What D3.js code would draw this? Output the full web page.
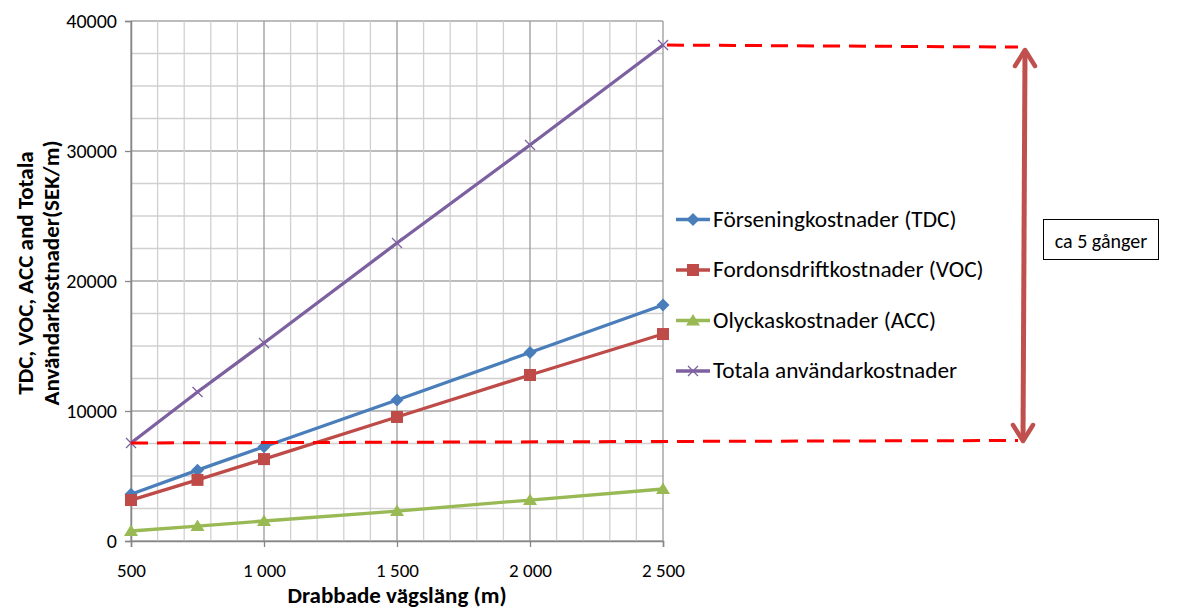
<!DOCTYPE html>
<html><head><meta charset="utf-8">
<script src="https://cdn.jsdelivr.net/npm/d3@7/dist/d3.min.js"></script>
<style>body{margin:0;background:#fff}svg{display:block}</style>
</head><body>
<svg id="c" width="1193" height="610"></svg>
<script>
const xValues = [500, 750, 1000, 1500, 2000, 2500];
const tdc = [3600, 5450, 7250, 10850, 14500, 18150];
const voc = [3150, 4700, 6300, 9540, 12770, 15920];
const acc = [770, 1150, 1540, 2300, 3150, 4000];
const total = [7540, 11460, 15230, 22920, 30460, 38150];
const seriesNames = ["Förseningkostnader (TDC)", "Fordonsdriftkostnader (VOC)", "Olyckaskostnader (ACC)", "Totala användarkostnader"];
const xTicks = [500, 1000, 1500, 2000, 2500];
const xTickLabels = ["500", "1 000", "1 500", "2 000", "2 500"];
const yTicks = [0, 10000, 20000, 30000, 40000];
const annotationText = "ca 5 gånger";
const refLow = 7540, refHigh = 38150;

const svg = d3.select("#c");
const font = "Calibri, Carlito, 'Open Sans', sans-serif";
const L = 131, R = 663, T = 21, B = 541;
const x = d3.scaleLinear().domain([500, 2500]).range([L, R]);
const y = d3.scaleLinear().domain([0, 40000]).range([B, T]);

// grid
const g = svg.append("g");
g.selectAll("line.hy").data(d3.range(0, 40001, 2500)).enter().append("line")
  .attr("x1", L).attr("x2", R).attr("y1", d => y(d)).attr("y2", d => y(d))
  .attr("stroke", d => d % 10000 === 0 ? "#a6a6a6" : "#d0d0d0").attr("stroke-width", 1.3);
g.selectAll("line.vx").data(d3.range(500, 2501, 100)).enter().append("line")
  .attr("y1", T).attr("y2", B).attr("x1", d => x(d)).attr("x2", d => x(d))
  .attr("stroke", d => d % 500 === 0 ? "#9a9a9a" : "#d0d0d0").attr("stroke-width", 1.3);

// axes
const yAxis = d3.axisLeft(y).tickValues(yTicks).tickSize(6).tickFormat(d => String(d));
const ya = svg.append("g").attr("transform", `translate(${L},0)`).call(yAxis);
const xAxis = d3.axisBottom(x).tickValues(xTicks).tickSize(6).tickFormat((d, i) => xTickLabels[i]);
const xa = svg.append("g").attr("transform", `translate(0,${B})`).call(xAxis);
[ya, xa].forEach(a => {
  a.select(".domain").attr("stroke", "#868686").attr("stroke-width", 1.5);
  a.selectAll(".tick line").attr("stroke", "#868686").attr("stroke-width", 1.3);
  a.selectAll("text").attr("font-family", font).attr("fill", "#000");
});
ya.selectAll("text").attr("x", -14).attr("font-size", 20);
xa.selectAll("text").attr("font-size", 19).attr("y", 0).attr("dy", 0).attr("transform", "translate(0,36)");

// titles
svg.append("text").attr("x", 397).attr("y", 603).attr("text-anchor", "middle")
  .attr("font-family", font).attr("font-weight", "bold").attr("font-size", 23).text("Drabbade vägsläng (m)");
const yt = svg.append("text").attr("transform", "translate(0,273) rotate(-90)").attr("text-anchor", "middle")
  .attr("font-family", font).attr("font-weight", "bold").attr("font-size", 23);
yt.append("tspan").attr("x", 0).attr("y", 33).text("TDC, VOC, ACC and Totala");
yt.append("tspan").attr("x", 0).attr("y", 59).text("Användarkostnader(SEK/m)");

// series
const colors = ["#4a7ebb", "#be4b48", "#98b954", "#7d60a0"];
const data = [tdc, voc, acc, total];
const line = d3.line().x((d, i) => x(xValues[i])).y(d => y(d));
function marker(sel, k, cx, cy) {
  const c = colors[k];
  if (k === 0) sel.append("path").attr("d", `M${cx},${cy-6.5}L${cx+6.5},${cy}L${cx},${cy+6.5}L${cx-6.5},${cy}Z`).attr("fill", c);
  else if (k === 1) sel.append("rect").attr("x", cx-6).attr("y", cy-6).attr("width", 12).attr("height", 12).attr("fill", c);
  else if (k === 2) sel.append("path").attr("d", `M${cx},${cy-6.5}L${cx+7},${cy+5}L${cx-7},${cy+5}Z`).attr("fill", c);
  else sel.append("path").attr("d", `M${cx-5},${cy-5}L${cx+5},${cy+5}M${cx-5},${cy+5}L${cx+5},${cy-5}`).attr("stroke", c).attr("stroke-width", 1.3).attr("fill", "none");
}
data.forEach((s, k) => {
  svg.append("path").datum(s).attr("d", line).attr("fill", "none").attr("stroke", colors[k]).attr("stroke-width", 3.3);
  const mg = svg.append("g");
  s.forEach((v, i) => marker(mg, k, x(xValues[i]), y(v)));
});

// legend
const legY = [219.5, 270, 320.5, 371];
seriesNames.forEach((n, k) => {
  const lg = svg.append("g");
  lg.append("line").attr("x1", 676).attr("x2", 710).attr("y1", legY[k]).attr("y2", legY[k]).attr("stroke", colors[k]).attr("stroke-width", 3.3);
  marker(lg, k, 693, legY[k]);
  lg.append("text").attr("x", 713).attr("y", legY[k] + 7).attr("font-family", font).attr("font-size", 23.3).text(n);
});

// dashed reference lines
svg.append("line").attr("x1", x(500)).attr("y1", y(refLow)).attr("x2", 1018).attr("y2", y(refLow) - 2.5)
  .attr("stroke", "#ff0000").attr("stroke-width", 3).attr("stroke-dasharray", "17,9");
svg.append("line").attr("x1", x(2500) + 4).attr("y1", y(refHigh)).attr("x2", 1018).attr("y2", y(refHigh) + 2)
  .attr("stroke", "#ff0000").attr("stroke-width", 3).attr("stroke-dasharray", "17,9");

// double arrow
const ac = "#c0504d";
const ax1 = 1025, ay1 = 50, ax2 = 1023, ay2 = 441;
svg.append("line").attr("x1", ax1).attr("y1", ay1 + 2).attr("x2", ax2).attr("y2", ay2 - 2).attr("stroke", ac).attr("stroke-width", 5);
svg.append("path").attr("d", `M${ax1-10},${ay1+16}L${ax1},${ay1}L${ax1+10},${ay1+16}`).attr("fill", "none").attr("stroke", ac).attr("stroke-width", 4.5).attr("stroke-linecap", "round").attr("stroke-linejoin", "round");
svg.append("path").attr("d", `M${ax2-10},${ay2-16}L${ax2},${ay2}L${ax2+10},${ay2-16}`).attr("fill", "none").attr("stroke", ac).attr("stroke-width", 4.5).attr("stroke-linecap", "round").attr("stroke-linejoin", "round");

// annotation box
svg.append("rect").attr("x", 1043.5).attr("y", 219.5).attr("width", 115).attr("height", 40).attr("fill", "#fff").attr("stroke", "#000").attr("stroke-width", 1);
svg.append("text").attr("x", 1101).attr("y", 248).attr("text-anchor", "middle").attr("font-family", font).attr("font-size", 20).text(annotationText);
</script>
</body></html>
